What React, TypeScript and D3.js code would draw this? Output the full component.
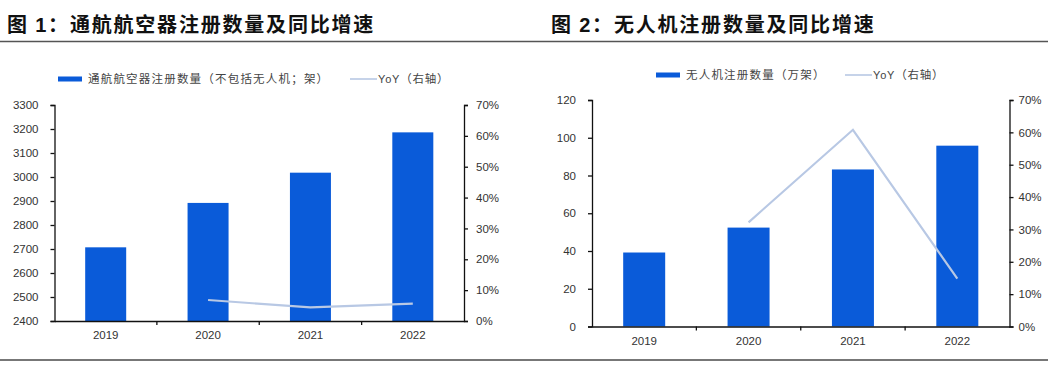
import React, { useEffect, useRef } from "react";
import * as d3 from "d3";

// data
const years = ["2019", "2020", "2021", "2022"];
const gaCounts = [2707, 2892, 3018, 3186];
const gaYoY: (number | null)[] = [null, 6.8, 4.4, 5.6];
const uavCounts = [39.2, 52.4, 83.2, 95.8];
const uavYoY: (number | null)[] = [null, 32.2, 60.8, 14.8];

const gaTicks = [2400, 2500, 2600, 2700, 2800, 2900, 3000, 3100, 3200, 3300];
const uavTicks = [0, 20, 40, 60, 80, 100, 120];
const pctTicks = [0, 10, 20, 30, 40, 50, 60, 70];

const BAR = "#0a5bd9";
const LINE = "#b8c8e4";
const NUM_FONT = "'Liberation Sans', Arial, sans-serif";
const CJK_FONT = "'Noto Sans CJK SC', 'Liberation Sans', sans-serif";

type PanelProps = {
  counts: number[];
  yoy: (number | null)[];
  leftTicks: number[];
  left: number;
  right: number;
  top: number;
  bottom: number;
  barWidth: number;
  leftPad: number;
  rightPad: number;
};

function Panel({ counts, yoy, leftTicks, left, right, top, bottom, barWidth, leftPad, rightPad }: PanelProps) {
  const ref = useRef<SVGGElement>(null);

  useEffect(() => {
    const g = d3.select(ref.current);
    g.selectAll("*").remove();

    const x = d3.scaleBand().domain(years).range([left, right]).padding(0);
    const y = d3.scaleLinear().domain([leftTicks[0], leftTicks[leftTicks.length - 1]]).range([bottom, top]);
    const y2 = d3.scaleLinear().domain([0, 70]).range([bottom, top]);

    g.selectAll("rect.bar")
      .data(counts)
      .join("rect")
      .attr("class", "bar")
      .attr("x", (_, i) => x(years[i])! + (x.bandwidth() - barWidth) / 2)
      .attr("width", barWidth)
      .attr("y", (d) => y(d))
      .attr("height", (d) => bottom - y(d))
      .attr("fill", BAR);

    const pts = yoy
      .map((v, i) => ({ v, yr: years[i] }))
      .filter((d) => d.v !== null) as { v: number; yr: string }[];
    const line = d3
      .line<{ v: number; yr: string }>()
      .x((d) => x(d.yr)! + x.bandwidth() / 2)
      .y((d) => y2(d.v));
    g.append("path")
      .attr("d", line(pts))
      .attr("fill", "none")
      .attr("stroke", LINE)
      .attr("stroke-width", 2.2);

    const styleAxis = (sel: d3.Selection<SVGGElement, unknown, null, undefined>) => {
      sel.select(".domain").attr("stroke", "#111").attr("stroke-width", 1.3);
      sel.selectAll(".tick line").attr("stroke", "#111").attr("stroke-width", 1.3);
      sel.selectAll(".tick text")
        .attr("fill", "#333")
        .attr("font-family", NUM_FONT)
        .attr("font-size", 11.5);
    };

    const ax = g.append("g")
      .attr("transform", `translate(0,${bottom})`)
      .call(d3.axisBottom(x).tickSize(0).tickPadding(10));
    styleAxis(ax);
    // tick marks on band boundaries
    ax.selectAll("line.sep")
      .data(years.slice(1))
      .join("line")
      .attr("class", "sep")
      .attr("x1", (d) => x(d)!)
      .attr("x2", (d) => x(d)!)
      .attr("y1", 0)
      .attr("y2", 4)
      .attr("stroke", "#111")
      .attr("stroke-width", 1.3);

    const ayl = g.append("g")
      .attr("transform", `translate(${left},0)`)
      .call(
        d3.axisLeft(y).tickValues(leftTicks).tickSize(4).tickSizeOuter(4).tickPadding(leftPad)
          .tickFormat(d3.format("d"))
      );
    styleAxis(ayl);

    const ayr = g.append("g")
      .attr("transform", `translate(${right},0)`)
      .call(
        d3.axisRight(y2).tickValues(pctTicks).tickSize(4).tickSizeOuter(4).tickPadding(rightPad)
          .tickFormat((d) => `${d}%`)
      );
    styleAxis(ayr);
  }, [counts, yoy, leftTicks, left, right, top, bottom, barWidth, leftPad, rightPad]);

  return <g ref={ref} />;
}

function Legend({ x, y, barLabel, lineX }: { x: number; y: number; barLabel: string; lineX: number }) {
  return (
    <g fontFamily={CJK_FONT} fontSize={11.5} fill="#444">
      <rect x={x} y={y - 2.5} width={24} height={5} fill={BAR} />
      <text x={x + 30} y={y + 4} letterSpacing={1.2}>{barLabel}</text>
      <line x1={lineX} x2={lineX + 27} y1={y} y2={y} stroke={LINE} strokeWidth={1.6} />
      <text x={lineX + 28} y={y + 4} letterSpacing={0.8}>
        <tspan fontFamily={NUM_FONT} fontSize={11}>YoY</tspan>（右轴）
      </text>
    </g>
  );
}

export default function App() {
  return (
    <svg
      width={1048}
      height={373}
      style={{ position: "fixed", left: 0, top: 0, background: "#fff" }}
    >
      <rect width={1048} height={373} fill="#fff" />
      <g fontFamily={CJK_FONT} fontWeight="bold" fontSize={20} fill="#111" letterSpacing={1.8}>
        <text x={7} y={32}>
          图 <tspan fontFamily={NUM_FONT}>1</tspan>：通航航空器注册数量及同比增速
        </text>
        <text x={551} y={32}>
          图 <tspan fontFamily={NUM_FONT}>2</tspan>：无人机注册数量及同比增速
        </text>
      </g>
      <line x1={0} x2={1048} y1={41.5} y2={41.5} stroke="#555" strokeWidth={1.5} />
      <line x1={0} x2={1048} y1={360} y2={360} stroke="#777" strokeWidth={2} />

      <Legend x={58} y={79} barLabel="通航航空器注册数量（不包括无人机；架）" lineX={350} />
      <Legend x={656} y={75} barLabel="无人机注册数量（万架）" lineX={845} />

      <Panel
        counts={gaCounts}
        yoy={gaYoY}
        leftTicks={gaTicks}
        left={54.5}
        right={464}
        top={105}
        bottom={321}
        barWidth={41}
        leftPad={12}
        rightPad={8}
      />
      <Panel
        counts={uavCounts}
        yoy={uavYoY}
        leftTicks={uavTicks}
        left={592}
        right={1009.5}
        top={100}
        bottom={326.5}
        barWidth={42}
        leftPad={12}
        rightPad={5}
      />
    </svg>
  );
}
